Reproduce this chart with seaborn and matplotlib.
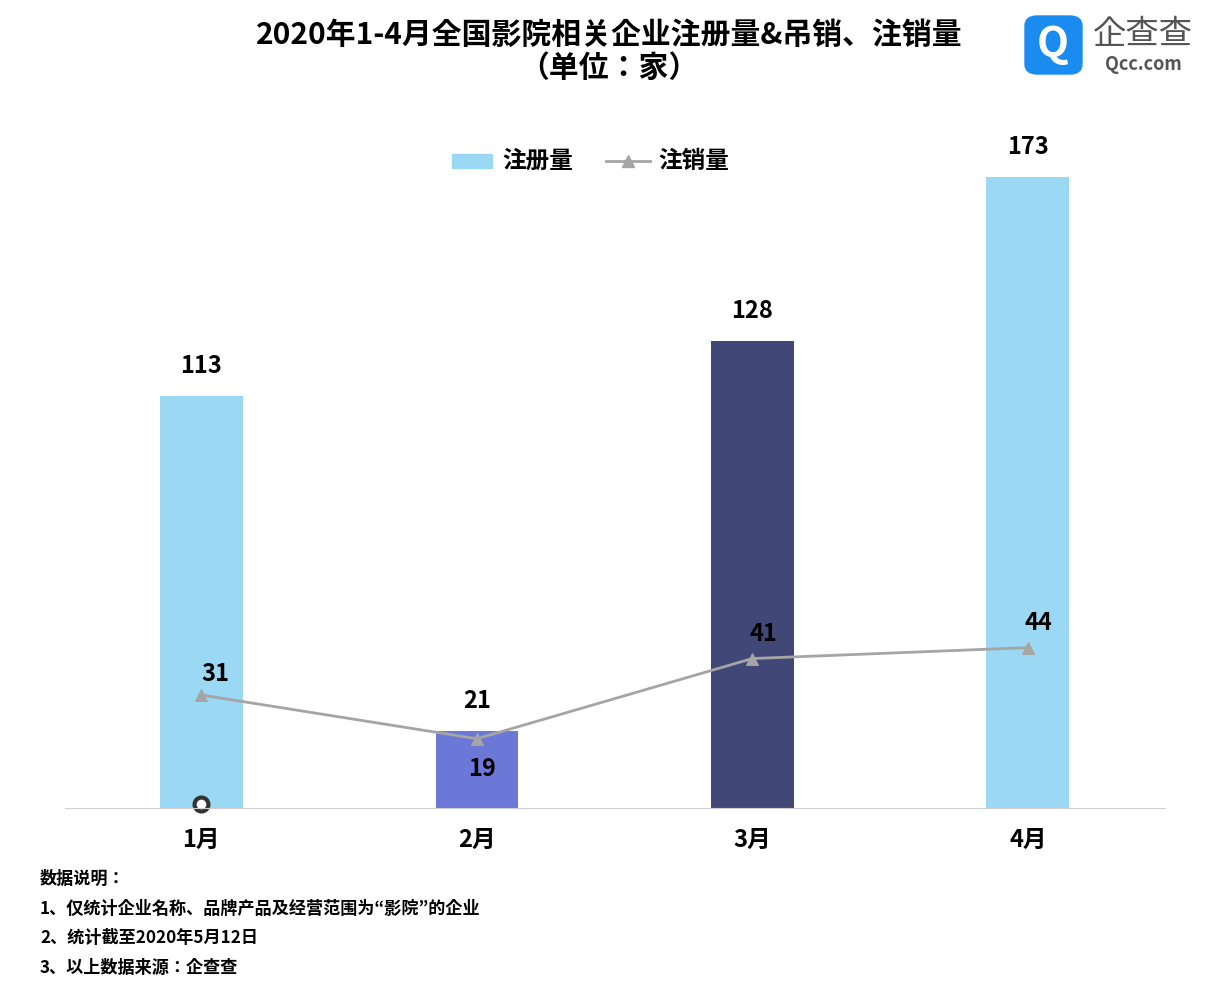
import matplotlib
matplotlib.use("Agg")
import matplotlib.pyplot as plt
from matplotlib import font_manager
from matplotlib.patches import FancyBboxPatch
import seaborn as sns
import pandas as pd

cjk = [f.name for f in font_manager.fontManager.ttflist if 'CJK' in f.name]
plt.rcParams['font.family'] = ['Noto Sans CJK SC', 'Noto Sans CJK JP'] + cjk + ['DejaVu Sans']

months = ['1月', '2月', '3月', '4月']
registered = [113, 21, 128, 173]
cancelled = [31, 19, 41, 44]
bar_colors = ['#9ad8f3', '#6b78d8', '#414878', '#9ad8f3']

df = pd.DataFrame({'month': months, 'reg': registered, 'can': cancelled})

fig = plt.figure(figsize=(12.19, 9.92), dpi=100)
ax = fig.add_axes([65 / 1219, 1 - 808 / 992, 1100 / 1219, 678 / 992])

sns.barplot(data=df, x='month', y='reg', hue='month', palette=bar_colors,
            width=0.3, legend=False, ax=ax, saturation=1)
sns.lineplot(x=list(range(4)), y=cancelled, color='#a5a5a5', linewidth=2,
             marker='^', markersize=8, markeredgecolor='#a5a5a5', ax=ax)

ax.set_xlim(-0.495, 3.498)
ax.set_ylim(0, 186)
for s in ['top', 'right', 'left']:
    ax.spines[s].set_visible(False)
ax.spines['bottom'].set_color('#d0d0d0')
ax.set_yticks([])
ax.set_xlabel('')
ax.set_ylabel('')
ax.tick_params(axis='x', length=0, labelsize=17, pad=14)
for t in ax.get_xticklabels():
    t.set_fontweight('bold')

for i, v in enumerate(registered):
    ax.text(i, v + 5, str(v), ha='center', va='bottom', fontsize=17, fontweight='bold')
can_off = [(0.05, 2.5), (0.02, -5), (0.04, 3.5), (0.04, 3.5)]
for i, v in enumerate(cancelled):
    dx, dy = can_off[i]
    ax.text(i + dx, v + dy, str(v), ha='center', va='bottom' if dy > 0 else 'top',
            fontsize=17, fontweight='bold')
ax.plot(0, 1, 'o', mfc='white', mec='#333333', mew=3, ms=10, clip_on=False)

# legend
fig.patches.append(plt.Rectangle((452 / 1219, 1 - 168 / 992), 40 / 1219, 14 / 992,
                                 transform=fig.transFigure, color='#9ad8f3'))
fig.text(502 / 1219, 1 - 161 / 992, '注册量', fontsize=17, fontweight='bold', va='center')
fig.add_artist(plt.Line2D([606 / 1219, 650 / 1219], [1 - 161 / 992] * 2,
                          color='#a5a5a5', lw=2, transform=fig.transFigure))
fig.add_artist(plt.Line2D([628 / 1219], [1 - 161 / 992], color='#a5a5a5',
                          marker='^', ms=8, transform=fig.transFigure))
fig.text(658 / 1219, 1 - 161 / 992, '注销量', fontsize=17, fontweight='bold', va='center')

# title
fig.text(609 / 1219, 1 - 35 / 992, '2020年1-4月全国影院相关企业注册量&吊销、注销量',
         ha='center', va='center', fontsize=21.5, fontweight='bold')
fig.text(609 / 1219, 1 - 68 / 992, '（单位：家）', ha='center', va='center',
         fontsize=21.5, fontweight='bold')

# logo
fig.patches.append(FancyBboxPatch((1025 / 1219, 1 - 74 / 992), 57 / 1219, 58 / 992,
                                  boxstyle='round,pad=0,rounding_size=0.01',
                                  transform=fig.transFigure, color='#1a8cf0'))
fig.text(1053 / 1219, 1 - 45 / 992, 'Q', color='white', fontsize=30, fontweight='bold',
         ha='center', va='center')
fig.text(1143 / 1219, 1 - 34 / 992, '企查查', color='#555555', fontsize=24,
         ha='center', va='center')
fig.text(1143 / 1219, 1 - 65 / 992, 'Qcc.com', color='#555555', fontsize=13,
         fontweight='bold', ha='center', va='center')

# notes
notes = ['数据说明：', '1、仅统计企业名称、品牌产品及经营范围为“影院”的企业',
         '2、统计截至2020年5月12日', '3、以上数据来源：企查查']
for k, n in enumerate(notes):
    fig.text(40 / 1219, 1 - (879 + 29.5 * k) / 992, n, fontsize=12.3,
             fontweight='bold', va='center')

fig.savefig('out.png', dpi=100)
